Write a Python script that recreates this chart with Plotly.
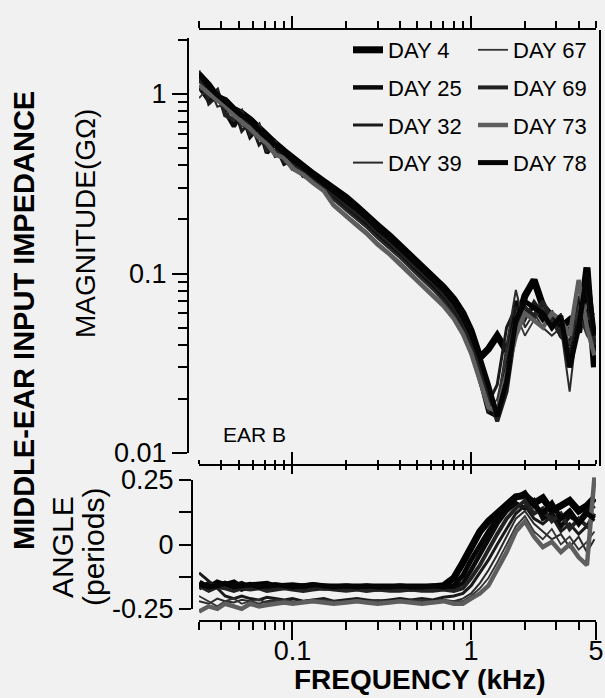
import math
import plotly.graph_objects as go

W, H = 605, 698

# ---------------- data ----------------
freq_khz = [0.030, 0.034, 0.038, 0.042, 0.047, 0.052, 0.058, 0.065, 0.072, 0.080,
            0.090, 0.100, 0.115, 0.13, 0.15, 0.17, 0.20, 0.23, 0.26, 0.30,
            0.35, 0.40, 0.46, 0.53, 0.61, 0.70, 0.80, 0.90, 1.00, 1.12,
            1.25, 1.40, 1.58, 1.78, 2.00, 2.25, 2.52, 2.83, 3.18, 3.56,
            4.00, 4.45, 4.90]

days = ["DAY 4", "DAY 25", "DAY 32", "DAY 39", "DAY 67", "DAY 69", "DAY 73", "DAY 78"]

mag_day4 = [1.28, 1.12, 0.96, 0.92, 0.82, 0.78, 0.72, 0.64, 0.59, 0.53, 0.48, 0.44, 0.40, 0.36, 0.325,
            0.30, 0.265, 0.235, 0.213, 0.185, 0.162, 0.143, 0.125, 0.110, 0.096, 0.084, 0.072, 0.06, 0.048,
            0.034, 0.038, 0.045, 0.037, 0.05, 0.075, 0.092, 0.066, 0.058, 0.05, 0.055, 0.047, 0.108, 0.03]
mag_day25 = [1.10, 0.92, 1.02, 0.80, 0.66, 0.79, 0.58, 0.66, 0.47, 0.53, 0.41, 0.43, 0.35, 0.34, 0.29,
             0.272, 0.238, 0.212, 0.19, 0.166, 0.146, 0.129, 0.113, 0.099, 0.086, 0.074, 0.062, 0.050, 0.038,
             0.026, 0.017, 0.016, 0.03, 0.07, 0.06, 0.065, 0.055, 0.06, 0.045, 0.04, 0.06, 0.05, 0.045]
mag_day32 = [1.35, 0.88, 0.97, 0.90, 0.84, 0.62, 0.70, 0.52, 0.58, 0.45, 0.47, 0.38, 0.38, 0.32, 0.30,
             0.26, 0.228, 0.203, 0.182, 0.158, 0.139, 0.123, 0.107, 0.094, 0.082, 0.071, 0.060, 0.049, 0.038,
             0.027, 0.019, 0.024, 0.05, 0.065, 0.055, 0.07, 0.06, 0.05, 0.055, 0.035, 0.075, 0.06, 0.05]
mag_day39 = [1.05, 1.10, 0.85, 0.88, 0.74, 0.75, 0.63, 0.60, 0.50, 0.49, 0.42, 0.41, 0.35, 0.335, 0.29,
             0.257, 0.223, 0.2, 0.18, 0.157, 0.138, 0.122, 0.106, 0.093, 0.081, 0.070, 0.059, 0.048, 0.037,
             0.026, 0.02, 0.018, 0.04, 0.081, 0.05, 0.06, 0.05, 0.045, 0.05, 0.022, 0.06, 0.045, 0.04]
mag_day67 = [0.95, 1.08, 0.98, 0.78, 0.80, 0.66, 0.66, 0.57, 0.52, 0.47, 0.43, 0.39, 0.35, 0.32, 0.285,
             0.245, 0.212, 0.19, 0.171, 0.149, 0.131, 0.116, 0.101, 0.088, 0.077, 0.067, 0.057, 0.046, 0.035,
             0.024, 0.017, 0.02, 0.035, 0.06, 0.045, 0.055, 0.065, 0.048, 0.06, 0.04, 0.065, 0.055, 0.06]
mag_day69 = [1.22, 0.96, 1.05, 0.76, 0.72, 0.80, 0.60, 0.67, 0.48, 0.54, 0.42, 0.42, 0.37, 0.33, 0.30,
             0.278, 0.242, 0.216, 0.196, 0.17, 0.149, 0.132, 0.115, 0.101, 0.089, 0.077, 0.065, 0.054, 0.042,
             0.03, 0.021, 0.015, 0.022, 0.05, 0.065, 0.058, 0.07, 0.055, 0.045, 0.05, 0.055, 0.09, 0.04]
mag_day73 = [1.12, 1.0, 0.92, 0.86, 0.76, 0.70, 0.64, 0.57, 0.53, 0.46, 0.44, 0.385, 0.355, 0.32, 0.288,
             0.24, 0.207, 0.185, 0.167, 0.145, 0.128, 0.113, 0.099, 0.086, 0.076, 0.066, 0.056, 0.046, 0.036,
             0.025, 0.018, 0.017, 0.028, 0.045, 0.06, 0.055, 0.05, 0.06, 0.055, 0.045, 0.092, 0.05, 0.035]
mag_day78 = [1.30, 1.10, 0.99, 0.91, 0.84, 0.76, 0.71, 0.63, 0.57, 0.52, 0.47, 0.43, 0.39, 0.355, 0.32,
             0.29, 0.254, 0.227, 0.205, 0.178, 0.157, 0.138, 0.121, 0.106, 0.093, 0.081, 0.069, 0.057, 0.046,
             0.034, 0.024, 0.016, 0.025, 0.055, 0.07, 0.065, 0.06, 0.05, 0.058, 0.03, 0.05, 0.1, 0.045]

ang_day4 = [-0.15, -0.17, -0.15, -0.16, -0.15, -0.17, -0.16, -0.16, -0.155, -0.165, -0.16, -0.16, -0.165,
            -0.16, -0.165, -0.165, -0.165, -0.17, -0.165, -0.17, -0.17, -0.165, -0.17, -0.17, -0.165, -0.16,
            -0.13, -0.07, -0.01, 0.05, 0.09, 0.12, 0.15, 0.185, 0.19, 0.16, 0.18, 0.13, 0.15, 0.17, 0.13, 0.15, 0.18]
ang_day25 = [-0.17, -0.15, -0.16, -0.165, -0.16, -0.15, -0.165, -0.16, -0.17, -0.16, -0.165, -0.17, -0.16,
             -0.165, -0.17, -0.165, -0.17, -0.165, -0.17, -0.175, -0.17, -0.17, -0.175, -0.17, -0.175, -0.17,
             -0.17, -0.15, -0.10, -0.04, 0.02, 0.08, 0.13, 0.16, 0.14, 0.17, 0.10, 0.12, 0.07, 0.11, 0.09, 0.13, 0.15]
ang_day32 = [-0.11, -0.14, -0.17, -0.20, -0.21, -0.20, -0.21, -0.215, -0.205, -0.21, -0.215, -0.21, -0.22,
             -0.215, -0.21, -0.22, -0.215, -0.21, -0.215, -0.22, -0.215, -0.21, -0.215, -0.21, -0.215, -0.205,
             -0.20, -0.19, -0.16, -0.11, -0.06, 0.0, 0.06, 0.12, 0.15, 0.10, 0.08, 0.11, 0.05, 0.08, 0.04, 0.07, 0.10]
ang_day39 = [-0.22, -0.23, -0.21, -0.22, -0.225, -0.215, -0.22, -0.23, -0.22, -0.215, -0.22, -0.225, -0.22,
             -0.215, -0.22, -0.225, -0.22, -0.215, -0.22, -0.22, -0.225, -0.22, -0.215, -0.22, -0.22, -0.215,
             -0.22, -0.21, -0.19, -0.15, -0.10, -0.04, 0.03, 0.10, 0.13, 0.08, 0.05, 0.02, 0.04, -0.01, 0.03, -0.03, 0.02]
ang_day67 = [-0.20, -0.22, -0.24, -0.22, -0.21, -0.23, -0.22, -0.215, -0.225, -0.22, -0.215, -0.22, -0.225,
             -0.22, -0.215, -0.22, -0.225, -0.22, -0.22, -0.215, -0.22, -0.225, -0.22, -0.215, -0.22, -0.22,
             -0.22, -0.22, -0.20, -0.17, -0.13, -0.07, 0.0, 0.07, 0.11, 0.05, 0.02, 0.06, 0.0, 0.03, -0.02, 0.01, 0.05]
ang_day69 = [-0.16, -0.18, -0.165, -0.17, -0.18, -0.17, -0.175, -0.17, -0.18, -0.175, -0.17, -0.175, -0.18,
             -0.175, -0.17, -0.175, -0.18, -0.175, -0.18, -0.175, -0.18, -0.18, -0.175, -0.18, -0.18, -0.175,
             -0.18, -0.17, -0.13, -0.08, -0.02, 0.04, 0.10, 0.14, 0.17, 0.12, 0.14, 0.09, 0.12, 0.06, 0.10, 0.07, 0.12]
ang_day73 = [-0.26, -0.24, -0.25, -0.23, -0.24, -0.25, -0.23, -0.24, -0.235, -0.23, -0.225, -0.23, -0.225,
             -0.22, -0.225, -0.23, -0.225, -0.22, -0.225, -0.23, -0.225, -0.22, -0.225, -0.23, -0.225, -0.22,
             -0.23, -0.23, -0.21, -0.19, -0.16, -0.10, -0.03, 0.05, 0.09, 0.03, -0.01, 0.01, -0.03, 0.0, -0.05, -0.08, 0.26]
ang_day78 = [-0.155, -0.165, -0.16, -0.15, -0.165, -0.16, -0.155, -0.165, -0.16, -0.155, -0.16, -0.165, -0.16,
             -0.155, -0.16, -0.165, -0.16, -0.165, -0.16, -0.165, -0.165, -0.16, -0.165, -0.165, -0.16, -0.165,
             -0.16, -0.12, -0.06, 0.0, 0.05, 0.10, 0.15, 0.18, 0.20, 0.15, 0.12, 0.16, 0.10, 0.13, 0.08, 0.12, 0.10]

mags = [mag_day4, mag_day25, mag_day32, mag_day39, mag_day67, mag_day69, mag_day73, mag_day78]
angs = [ang_day4, ang_day25, ang_day32, ang_day39, ang_day67, ang_day69, ang_day73, ang_day78]

major_ticks_x = [0.1, 1]
bottom_ticks_x = [0.1, 1, 5]
bottom_ticktext_x = ["0.1", "1", "5"]
minor_ticks_x = [0.03, 0.04, 0.05, 0.06, 0.07, 0.08, 0.09, 0.2, 0.3, 0.4, 0.5, 0.6, 0.7, 0.8, 0.9, 2, 3, 4, 5]
mag_ticks = [0.01, 0.1, 1]
mag_ticktext = ["0.01", "0.1", "1"]
mag_minor = [0.02, 0.03, 0.04, 0.05, 0.06, 0.07, 0.08, 0.09, 0.2, 0.3, 0.4, 0.5, 0.6, 0.7, 0.8, 0.9, 2]
ang_ticks = [-0.25, -0.125, 0, 0.125, 0.25]
ang_ticktext = ["-0.25", "", "0", "", "0.25"]

# ---------------- styles ----------------
colors = ["#000000", "#0a0a0a", "#1a1a1a", "#2a2a2a", "#333333", "#222222", "#5e5e5e", "#050505"]
widths = [7, 4.5, 3, 2, 1.8, 4, 4.5, 5]
legend_of = ["legend", "legend", "legend", "legend", "legend2", "legend2", "legend2", "legend2"]

FONT = "Liberation Sans, Arial, Helvetica, sans-serif"
BG = "#f1f1f1"


def px_x(p):
    return p / W


def px_y(p):
    return 1 - p / H


fig = go.Figure()

for i, d in enumerate(days):
    fig.add_trace(go.Scatter(
        x=freq_khz, y=mags[i], mode="lines", name=d,
        line=dict(color=colors[i], width=widths[i]),
        xaxis="x", yaxis="y", legend=legend_of[i], legendgroup=d,
        showlegend=True))
for i, d in enumerate(days):
    fig.add_trace(go.Scatter(
        x=freq_khz, y=angs[i], mode="lines", name=d,
        line=dict(color=colors[i], width=widths[i]),
        xaxis="x2", yaxis="y2", legendgroup=d, showlegend=False))

# empty helper traces so that the decorative axes are drawn
fig.add_trace(go.Scatter(x=[], y=[], xaxis="x3", yaxis="y2", showlegend=False, hoverinfo="skip"))
fig.add_trace(go.Scatter(x=[], y=[], xaxis="x4", yaxis="y2", showlegend=False, hoverinfo="skip"))
fig.add_trace(go.Scatter(x=[], y=[], xaxis="x2", yaxis="y3", showlegend=False, hoverinfo="skip"))

xr = [math.log10(0.03), math.log10(5)]
xdom = [px_x(199), px_x(596)]

common_x = dict(type="log", range=xr, domain=xdom, showgrid=False, zeroline=False,
                showline=True, linecolor="black", linewidth=2, tickcolor="black",
                tickwidth=2, ticklen=12, ticks="outside", tickmode="array", automargin=False)

fig.update_layout(
    template="none",
    width=W, height=H,
    margin=dict(l=0, r=0, t=0, b=0, pad=0),
    paper_bgcolor=BG, plot_bgcolor="rgba(0,0,0,0)",
    font=dict(family=FONT, size=26, color="black"),
    showlegend=True,
    xaxis=dict(**common_x, anchor="free", position=px_y(29), side="top",
               tickvals=major_ticks_x, showticklabels=False,
               minor=dict(tickvals=minor_ticks_x, ticks="outside", ticklen=7, tickwidth=2, tickcolor="black")),
    xaxis2=dict(**{**common_x, "ticklen": 18}, anchor="y2", side="bottom", matches="x",
                tickvals=bottom_ticks_x, ticktext=bottom_ticktext_x,
                tickfont=dict(size=27), ticklabelstandoff=-12,
                minor=dict(tickvals=minor_ticks_x, ticks="outside", ticklen=8, tickwidth=2, tickcolor="black")),
    xaxis3=dict(**common_x, anchor="free", position=px_y(465), side="top", overlaying="x2",
                tickvals=major_ticks_x, showticklabels=False,
                minor=dict(tickvals=minor_ticks_x, ticks="outside", ticklen=4, tickwidth=2, tickcolor="black")),
    xaxis4=dict(**{**common_x, "ticks": "inside", "ticklen": 8}, anchor="free", position=px_y(465),
                side="top", overlaying="x2",
                tickvals=major_ticks_x, showticklabels=False,
                minor=dict(tickvals=minor_ticks_x, ticks="inside", ticklen=4, tickwidth=2, tickcolor="black")),
    yaxis=dict(type="log", range=[-2, 0.312], domain=[px_y(453), px_y(38)],
               anchor="free", position=px_x(188), showgrid=False, zeroline=False,
               showline=True, linecolor="black", linewidth=2, automargin=False,
               ticks="outside", ticklen=15, tickwidth=2, tickcolor="black",
               tickmode="array", tickvals=mag_ticks, ticktext=mag_ticktext,
               tickfont=dict(size=27),
               minor=dict(tickvals=mag_minor, ticks="outside", ticklen=9, tickwidth=2, tickcolor="black")),
    yaxis2=dict(range=[-0.293, 0.308], domain=[px_y(620), px_y(465)], visible=False, automargin=False),
    yaxis3=dict(range=[-0.25, 0.25], domain=[px_y(609), px_y(480)],
                anchor="free", position=px_x(192), showgrid=False, zeroline=False,
                showline=True, linecolor="black", linewidth=2, automargin=False,
                ticks="outside", ticklen=12, tickwidth=2, tickcolor="black",
                tickmode="array", tickvals=ang_ticks,
                ticktext=ang_ticktext, tickfont=dict(size=27)),
    legend=dict(x=px_x(348), y=px_y(29), xanchor="left", yanchor="top",
                bgcolor="rgba(0,0,0,0)", font=dict(size=22), tracegroupgap=6,
                traceorder="grouped", itemwidth=30),
    legend2=dict(x=px_x(473), y=px_y(29), xanchor="left", yanchor="top",
                 bgcolor="rgba(0,0,0,0)", font=dict(size=22), tracegroupgap=6,
                 traceorder="grouped", itemwidth=30),
)

# right-hand frame line of the upper panel
fig.add_shape(type="line", xref="paper", yref="paper",
              x0=px_x(600), x1=px_x(600), y0=px_y(466), y1=px_y(30),
              line=dict(color="black", width=2))

ann = [
    dict(text="<b>MIDDLE-EAR INPUT IMPEDANCE</b>", x=24, y=321, size=29),
    dict(text="MAGNITUDE(GΩ)", x=85, y=224, size=28),
    dict(text="ANGLE", x=62, y=547, size=30),
    dict(text="(periods)", x=93, y=547, size=30),
]
for a in ann:
    fig.add_annotation(text=a["text"], x=px_x(a["x"]), y=px_y(a["y"]), xref="paper", yref="paper",
                       textangle=-90, showarrow=False, xanchor="center", yanchor="middle",
                       font=dict(size=a["size"], family=FONT, color="black"))
fig.add_annotation(text="EAR B", x=px_x(254), y=px_y(434), xref="paper", yref="paper",
                   showarrow=False, xanchor="center", yanchor="middle",
                   font=dict(size=21, family=FONT, color="black"))
fig.add_annotation(text="<b>FREQUENCY (kHz)</b>", x=px_x(420), y=px_y(679), xref="paper", yref="paper",
                   showarrow=False, xanchor="center", yanchor="middle",
                   font=dict(size=28, family=FONT, color="black"))

fig.write_html("out.html")
